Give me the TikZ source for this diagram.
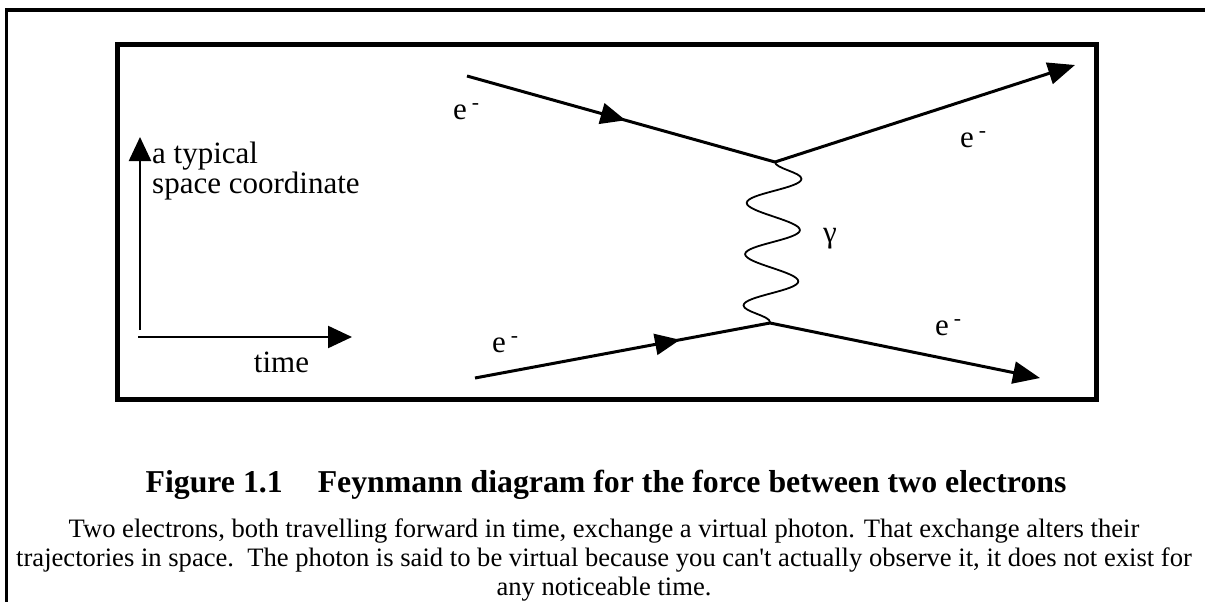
\documentclass[tikz,border=0pt]{standalone}
\usepackage{fontspec}
\setmainfont{Liberation Serif}
\usetikzlibrary{positioning,arrows.meta,decorations.pathmorphing,decorations.markings}
\newcommand{\eminus}{e\hspace{5pt}\textsuperscript{-}}
\tikzset{
  eline/.style={line width=3pt},
  outarrow/.style={eline, -{Triangle[length=27pt,width=22pt]}},
  midarrow/.style={eline, postaction={decorate}, decoration={markings, mark=at position #1 with {\arrow{Triangle[length=25pt,width=21pt]}}}},
  photon/.style={line width=1.8pt, decorate, decoration={snake, amplitude=27pt, segment length=51.3pt}},
  axis/.style={line width=2.3pt, -{Triangle[length=24pt,width=22pt]}},
  lbl/.style={font=\fontsize{31}{30}\selectfont, inner sep=0pt, anchor=base west},
  capt/.style={font=\fontsize{31.8}{32}\selectfont\bfseries, inner sep=0pt, anchor=base},
  desc/.style={font=\fontsize{26.6}{29}\selectfont, inner sep=0pt, align=center, anchor=north}
}
\begin{document}
\begin{tikzpicture}[x=1pt, y=-1pt]
  \useasboundingbox (0,0) rectangle (1205,602);
  % frames
  \draw[line width=3.3pt] (1205,10) -- (6.5,10) -- (6.5,602);
  \draw[line width=5pt] (117,45) rectangle (1096,399.5);

  % axes
  \coordinate (spacebase) at (140,330);
  \coordinate (spacetip) at (140,137);
  \coordinate (timebase) at (138,337);
  \coordinate (timetip) at (352,337);
  \draw[axis] (spacebase) -- (spacetip);
  \draw[axis] (timebase) -- (timetip);
  \node[lbl, align=left, anchor=north west] (spacelbl) at (152,142) {a typical\\space coordinate};
  \node[lbl, anchor=base] (timelbl) at (281.5,372) {time};

  % vertices and electron lines
  \coordinate (vtop) at (775,162);
  \coordinate (vbot) at (770,323);
  \coordinate (ein1) at (467,76);
  \coordinate (eout1) at (1075,65);
  \coordinate (ein2) at (475,378);
  \coordinate (eout2) at (1040,378);
  \draw[midarrow=0.515] (ein1) -- (vtop);
  \draw[outarrow] (vtop) -- (eout1);
  \draw[midarrow=0.695] (ein2) -- (vbot);
  \draw[outarrow] (vbot) -- (eout2);
  \draw[photon] (vtop) -- (vbot);

  \node[lbl] (e1) at (453,119) {\eminus};
  \node[lbl] (e2) at (960,147) {\eminus};
  \node[lbl] (e3) at (492,352) {\eminus};
  \node[lbl] (e4) at (935,335) {\eminus};
  \node[lbl] (gam) at (823,242) {γ};

  % caption
  \node[capt] (caption) at (606,492) {Figure 1.1\hspace{35pt}Feynmann diagram for the force between two electrons};
  \node[desc] (text) at (604,519) {Two electrons, both travelling forward in time, exchange a virtual photon. That exchange alters their\\
    trajectories in space.\ \ The photon is said to be virtual because you can\textquotesingle t actually observe it, it does not exist for\\
    any noticeable time.};
\end{tikzpicture}
\end{document}
